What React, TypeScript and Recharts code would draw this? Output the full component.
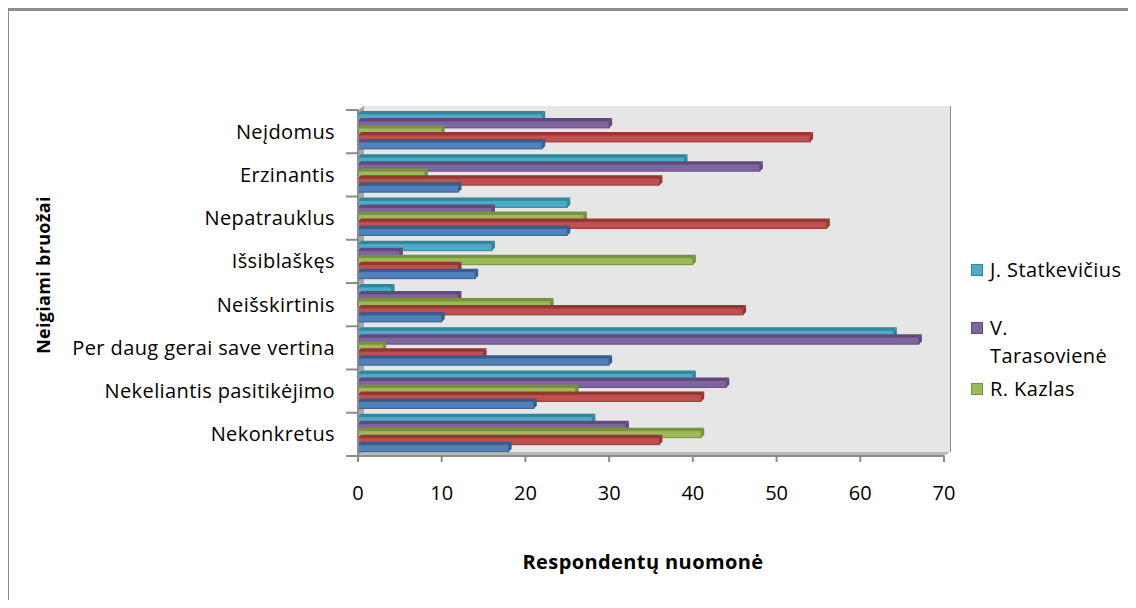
import { BarChart, Bar, XAxis, YAxis, CartesianGrid, ReferenceArea } from "recharts";

const categories = [
  "Neįdomus",
  "Erzinantis",
  "Nepatrauklus",
  "Išsiblaškęs",
  "Neišskirtinis",
  "Per daug gerai save vertina",
  "Nekeliantis pasitikėjimo",
  "Nekonkretus",
];

// one array per respondent group, same order as categories
const statkevicius = [22, 39, 25, 16, 4, 64, 40, 28];
const tarasoviene = [30, 48, 16, 5, 12, 67, 44, 32];
const kazlas = [10, 8, 27, 40, 23, 3, 26, 41];
const seriesD = [54, 36, 56, 12, 46, 15, 41, 36];
const seriesE = [22, 12, 25, 14, 10, 30, 21, 18];

const xTicks = [0, 10, 20, 30, 40, 50, 60, 70];

const data = categories.map((name, i) => ({
  name,
  statkevicius: statkevicius[i],
  tarasoviene: tarasoviene[i],
  kazlas: kazlas[i],
  seriesD: seriesD[i],
  seriesE: seriesE[i],
}));

// top to bottom inside each category band
const series = [
  { key: "statkevicius", name: "J. Statkevičius", color: "#4bacc6", edge: "#31859c", legend: true },
  { key: "tarasoviene", name: "V. Tarasovienė", color: "#8064a2", edge: "#5f4a7a", legend: true },
  { key: "kazlas", name: "R. Kazlas", color: "#9bbb59", edge: "#76923c", legend: true },
  { key: "seriesD", name: "D", color: "#c0504d", edge: "#943634", legend: false },
  { key: "seriesE", name: "E", color: "#4f81bd", edge: "#385d8a", legend: false },
];

const FONT = "'Open Sans', sans-serif";
const WIDTH = 1120;
const HEIGHT = 592;
const MARGIN = { top: 102, right: 184, bottom: 24, left: 0 };
const X_AXIS_HEIGHT = 120;
const Y_AXIS_WIDTH = 350;
const PLOT_HEIGHT = HEIGHT - MARGIN.top - MARGIN.bottom - X_AXIS_HEIGHT;
const HALF_BAND = PLOT_HEIGHT / categories.length / 2;
const DEPTH_X = 6;
const DEPTH_Y = 4;
const Y_TICK_MARGIN = 23;

const Bar3D = (props: any) => {
  const { x, y, width, height, fill, edge } = props;
  if (!width || width <= 0) return null;
  const d = 3;
  return (
    <g>
      <polygon
        points={`${x},${y} ${x + d},${y - d} ${x + width + d},${y - d} ${x + width},${y}`}
        fill={edge}
      />
      <polygon
        points={`${x + width},${y} ${x + width + d},${y - d} ${x + width + d},${y + height - d} ${x + width},${y + height}`}
        fill={edge}
      />
      <rect x={x} y={y} width={width} height={height} fill={fill} stroke={edge} strokeWidth={1} />
    </g>
  );
};

// back wall, side wall and floor of the pseudo-3D plot box
const Wall = (props: any) => {
  const { x, y, width, height } = props;
  const b = y + height;
  return (
    <g>
      <rect x={x + DEPTH_X} y={y - DEPTH_Y} width={width} height={height} fill="#e6e6e6" />
      <polygon
        points={`${x},${y} ${x + DEPTH_X},${y - DEPTH_Y} ${x + DEPTH_X},${b - DEPTH_Y} ${x},${b}`}
        fill="#a6a6a6"
      />
      <polygon
        points={`${x},${b} ${x + DEPTH_X},${b - DEPTH_Y} ${x + width + DEPTH_X},${b - DEPTH_Y} ${x + width},${b}`}
        fill="#b8b8b8"
      />
    </g>
  );
};

const GridLine = (props: any) => {
  const { x1, y1, x2, y2, index } = props;
  return (
    <line
      key={`v-${index}`}
      x1={x1 + DEPTH_X}
      y1={y1 - DEPTH_Y}
      x2={x2 + DEPTH_X}
      y2={y2 - DEPTH_Y}
      stroke="#8c8c8c"
      strokeWidth={2}
    />
  );
};

const CategoryTick = (props: any) => {
  const { x, y, payload, index } = props;
  const axisX = x + Y_TICK_MARGIN;
  const last = index === categories.length - 1;
  return (
    <g>
      <line x1={axisX - 12} y1={y - HALF_BAND} x2={axisX} y2={y - HALF_BAND} stroke="#8c8c8c" strokeWidth={2} />
      {last && (
        <line x1={axisX - 12} y1={y + HALF_BAND} x2={axisX} y2={y + HALF_BAND} stroke="#8c8c8c" strokeWidth={2} />
      )}
      <text
        x={x}
        y={y}
        dy="0.35em"
        textAnchor="end"
        fontSize={20}
        letterSpacing={0.4}
        fontFamily={FONT}
        fill="#000"
      >
        {payload.value}
      </text>
    </g>
  );
};

const legendGaps = [0, 30, 5];

const ChartLegend = () => (
  <div
    style={{
      position: "absolute",
      left: 963,
      top: 248,
      fontFamily: FONT,
      fontSize: 20,
      letterSpacing: 0.4,
      lineHeight: "28px",
    }}
  >
    {series
      .filter((s) => s.legend)
      .map((s, i) => (
        <div key={s.key} style={{ display: "flex", alignItems: "flex-start", marginTop: legendGaps[i] }}>
          <span
            style={{
              width: 10,
              height: 10,
              marginTop: 8,
              marginRight: 7,
              background: s.color,
              border: `1px solid ${s.edge}`,
              flexShrink: 0,
            }}
          />
          <span style={{ width: 136 }}>{s.name}</span>
        </div>
      ))}
  </div>
);

export default function App() {
  return (
    <div style={{ position: "relative", width: WIDTH, height: HEIGHT }}>
      <div
        style={{
          position: "absolute",
          left: -2,
          top: 0,
          width: WIDTH + 8,
          height: HEIGHT,
          borderTop: "3px solid #8c8c8c",
          borderLeft: "3px solid #8c8c8c",
          boxSizing: "border-box",
        }}
      />
      <BarChart
        width={WIDTH}
        height={HEIGHT}
        data={data}
        layout="vertical"
        margin={MARGIN}
        barCategoryGap="9%"
        barGap={0}
      >
        <ReferenceArea x1={0} x2={70} shape={Wall} fill="#e6e6e6" fillOpacity={1} />
        <CartesianGrid horizontal={false} vertical={GridLine} fill="none" />
        <XAxis
          type="number"
          domain={[0, 70]}
          ticks={xTicks}
          height={X_AXIS_HEIGHT}
          tickSize={6}
          tickMargin={24}
          axisLine={{ stroke: "#8c8c8c", strokeWidth: 2 }}
          tickLine={{ stroke: "#8c8c8c", strokeWidth: 2 }}
          tick={{ fontSize: 20, fontFamily: FONT, fill: "#000" }}
          label={{
            content: ({ viewBox }: any) => (
              <text
                x={viewBox.x + viewBox.width / 2 - 8}
                y={viewBox.y + 113}
                textAnchor="middle"
                fontSize={20}
                letterSpacing={0.4}
                fontWeight="bold"
                fontFamily={FONT}
                fill="#000"
              >
                Respondentų nuomonė
              </text>
            ),
          }}
        />
        <YAxis
          type="category"
          dataKey="name"
          width={Y_AXIS_WIDTH}
          tickLine={false}
          tickSize={0}
          tickMargin={Y_TICK_MARGIN}
          axisLine={{ stroke: "#8c8c8c", strokeWidth: 2 }}
          tick={CategoryTick}
          interval={0}
          label={{
            content: ({ viewBox }: any) => {
              const cx = viewBox.x + 36;
              const cy = viewBox.y + viewBox.height / 2 - 8;
              return (
                <text
                  x={cx}
                  y={cy}
                  dy="0.35em"
                  transform={`rotate(-90, ${cx}, ${cy})`}
                  textAnchor="middle"
                  fontSize={18}
                  letterSpacing={0.3}
                  fontWeight="bold"
                  fontFamily={FONT}
                  fill="#000"
                >
                  Neigiami bruožai
                </text>
              );
            },
          }}
        />
        {series.map((s) => (
          <Bar
            key={s.key}
            dataKey={s.key}
            name={s.name}
            fill={s.color}
            isAnimationActive={false}
            shape={(p: any) => <Bar3D {...p} edge={s.edge} />}
          />
        ))}
      </BarChart>
      <ChartLegend />
    </div>
  );
}
